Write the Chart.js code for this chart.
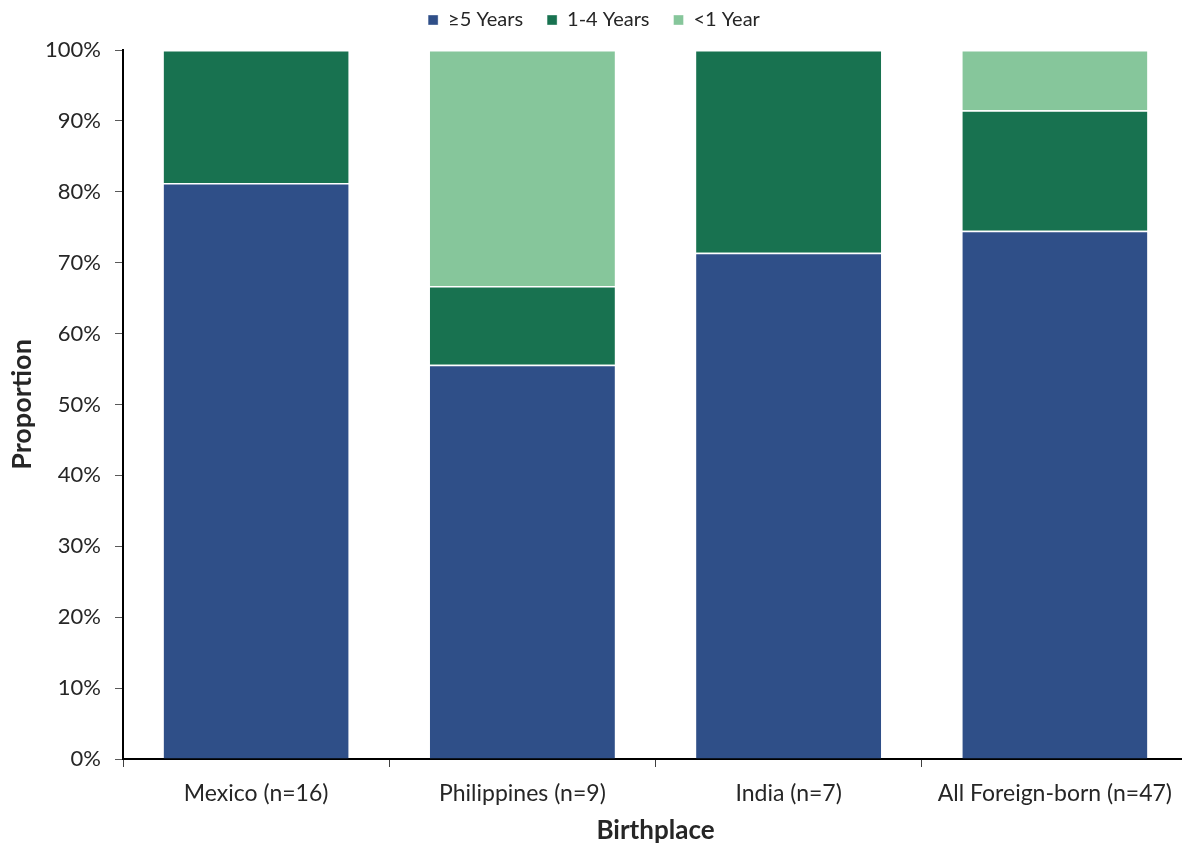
<!DOCTYPE html>
<html lang="en">
<head>
    <meta charset="UTF-8">
    <title>Years in US by Birthplace</title>
    <script src="https://cdn.jsdelivr.net/npm/chart.js"></script>
    <style>
        html, body {
            margin: 0;
            padding: 0;
            background: #fff;
            overflow: hidden;
        }
        .chart-box {
            width: 1188px;
            height: 846px;
        }
    </style>
</head>
<body>
    <div class="chart-box">
        <canvas id="years-chart"></canvas>
    </div>

    <script>
        // Birthplace categories and share (%) in each duration group
        const birthplaces = ['Mexico (n=16)', 'Philippines (n=9)', 'India (n=7)', 'All Foreign-born (n=47)'];
        const fivePlus = [81.25, 55.6, 71.4, 74.5];
        const oneToFour = [18.75, 11.1, 28.6, 17.0];
        const underOne = [0, 33.3, 0, 8.5];
        const yTicks = [0, 10, 20, 30, 40, 50, 60, 70, 80, 90, 100];

        const font = "Lato, 'Open Sans', sans-serif";
        Chart.defaults.font.family = font;
        Chart.defaults.color = '#262626';

        const seg = (label, data, color) => ({
            label: label,
            data: data,
            backgroundColor: color,
            borderColor: '#ffffff',
            borderWidth: { top: 1.5 },
            borderSkipped: false,
            categoryPercentage: 1,
            barPercentage: 0.695
        });

        // wide gaps between legend items but a short legend box
        const legendHeight = {
            id: 'legendHeight',
            afterInit(chart) {
                const lg = chart.legend;
                const fit = lg.fit;
                lg.fit = function () {
                    fit.call(this);
                    this.height = 64;
                };
            }
        };

        const ctx = document.getElementById('years-chart').getContext('2d');
        new Chart(ctx, {
            type: 'bar',
            data: {
                labels: birthplaces,
                datasets: [
                    seg('\u22655 Years', fivePlus, '#2f4f88'),
                    seg('1-4 Years', oneToFour, '#187250'),
                    seg('<1 Year', underOne, '#86c69b')
                ]
            },
            plugins: [legendHeight],
            options: {
                responsive: true,
                maintainAspectRatio: false,
                animation: false,
                layout: { padding: { top: -14, right: 0, left: 0, bottom: 0 } },
                plugins: {
                    tooltip: { enabled: false },
                    legend: {
                        position: 'top',
                        labels: {
                            boxWidth: 10,
                            boxHeight: 10,
                            padding: 24,
                            font: { size: 20 },
                            color: '#262626'
                        }
                    }
                },
                scales: {
                    x: {
                        stacked: true,
                        offset: true,
                        grid: {
                            offset: true,
                            drawOnChartArea: false,
                            tickLength: 8,
                            color: '#404040'
                        },
                        border: { color: '#000', width: 2 },
                        ticks: { font: { size: 23 }, padding: 13, color: '#262626' },
                        title: {
                            display: true,
                            text: 'Birthplace',
                            font: { size: 26, weight: 'bold' },
                            padding: { top: 8, bottom: 0 }
                        },
                        afterFit: (s) => { s.height = 87; }
                    },
                    y: {
                        stacked: true,
                        min: 0,
                        max: 100,
                        afterBuildTicks: (s) => { s.ticks = yTicks.map(v => ({ value: v })); },
                        grid: {
                            drawOnChartArea: false,
                            tickLength: 8,
                            color: '#595959'
                        },
                        border: { color: '#000', width: 2 },
                        ticks: {
                            font: { size: 22 },
                            padding: 14,
                            color: '#262626',
                            callback: (v) => v + '%'
                        },
                        title: {
                            display: true,
                            text: 'Proportion',
                            font: { size: 27, weight: 'bold' },
                            padding: { bottom: 0, top: 6 }
                        },
                        afterFit: (s) => { s.width = 123; }
                    }
                }
            }
        });
    </script>
</body>
</html>
